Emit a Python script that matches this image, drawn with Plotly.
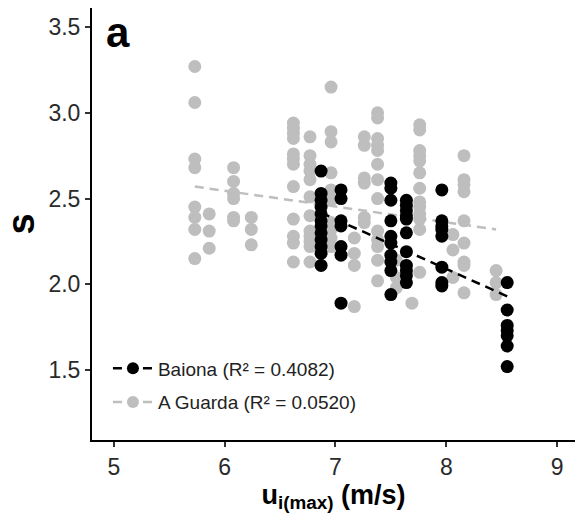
import plotly.graph_objects as go

# ---- data ----
guarda_x = ([5.73] * 8 + [5.86] * 3 + [6.08] * 6 + [6.24] * 3 + [6.62] * 12 + [6.77] * 12
            + [6.96] * 10 + [7.17] * 4 + [7.26] * 6 + [7.38] * 13 + [7.55] * 3 + [7.69] * 1
            + [7.76] * 13 + [8.06] * 3 + [8.16] * 9 + [8.45] * 3)
guarda_y = [3.27, 3.06, 2.73, 2.68, 2.45, 2.39, 2.32, 2.15,
            2.41, 2.31, 2.21,
            2.68, 2.60, 2.53, 2.50, 2.39, 2.37,
            2.39, 2.32, 2.23,
            2.94, 2.91, 2.88, 2.85, 2.76, 2.73, 2.70, 2.57, 2.38, 2.28, 2.24, 2.13,
            2.86, 2.75, 2.70, 2.66, 2.61, 2.51, 2.40, 2.31, 2.28, 2.25, 2.22, 2.13,
            3.15, 2.89, 2.83, 2.65, 2.55, 2.49, 2.36, 2.32, 2.27, 2.22,
            2.27, 2.18, 2.11, 1.87,
            2.86, 2.81, 2.62, 2.59, 2.39, 2.36,
            3.00, 2.97, 2.85, 2.81, 2.78, 2.70, 2.61, 2.50, 2.31, 2.26, 2.22, 2.14, 2.02,
            2.14, 2.04, 1.98,
            1.89,
            2.93, 2.90, 2.78, 2.75, 2.72, 2.65, 2.56, 2.48, 2.45, 2.41, 2.38, 2.32, 2.07,
            2.29, 2.20, 2.04,
            2.75, 2.61, 2.58, 2.54, 2.37, 2.24, 2.13, 2.11, 1.95,
            2.08, 2.01, 1.94]

baiona_x = ([6.87] * 12 + [7.05] * 7 + [7.50] * 10 + [7.64] * 11 + [7.96] * 8 + [8.55] * 7)
baiona_y = [2.66, 2.53, 2.49, 2.45, 2.41, 2.37, 2.34, 2.30, 2.26, 2.22, 2.18, 2.11,
            2.55, 2.50, 2.37, 2.34, 2.22, 2.17, 1.89,
            2.59, 2.56, 2.49, 2.37, 2.28, 2.24, 2.17, 2.13, 2.08, 1.94,
            2.49, 2.46, 2.43, 2.40, 2.38, 2.30, 2.19, 2.11, 2.08, 2.05, 2.01,
            2.55, 2.37, 2.34, 2.32, 2.28, 2.10, 2.01, 1.99,
            2.01, 1.85, 1.76, 1.73, 1.70, 1.64, 1.52]

# fitted trend lines (end points)
guarda_fit_x = [5.73, 8.45]
guarda_fit_y = [2.57, 2.32]
baiona_fit_x = [6.87, 8.55]
baiona_fit_y = [2.417, 1.93]

names = ["Baiona (R² = 0.4082)", "A Guarda (R² = 0.0520)"]
x_ticks = [5, 6, 7, 8, 9]
y_ticks = [1.5, 2.0, 2.5, 3.0, 3.5]

GRAY = "#bebebe"
BLACK = "#000000"
FONT = "Arial, Liberation Sans, sans-serif"

fig = go.Figure()
fig.add_trace(go.Scatter(x=guarda_x, y=guarda_y, mode="markers",
                         marker=dict(color=GRAY, size=13), showlegend=False))
fig.add_trace(go.Scatter(x=guarda_fit_x, y=guarda_fit_y, mode="lines",
                         line=dict(color=GRAY, width=2.5, dash="9px,6px"), showlegend=False))
fig.add_trace(go.Scatter(x=baiona_x, y=baiona_y, mode="markers",
                         marker=dict(color=BLACK, size=13), showlegend=False))
fig.add_trace(go.Scatter(x=baiona_fit_x, y=baiona_fit_y, mode="lines",
                         line=dict(color=BLACK, width=2.5, dash="9px,6px"), showlegend=False))

# legend entries
fig.add_trace(go.Scatter(x=[None], y=[None], mode="lines+markers", name=names[0],
                         legendgroup="b",
                         marker=dict(color=BLACK, size=12),
                         line=dict(color=BLACK, width=2.5, dash="9px,6px")))
fig.add_trace(go.Scatter(x=[None], y=[None], mode="lines+markers", name=names[1],
                         legendgroup="g",
                         marker=dict(color=GRAY, size=12),
                         line=dict(color=GRAY, width=2.5, dash="9px,6px")))

axis_common = dict(showgrid=False, zeroline=False, showline=True, linecolor="black",
                   linewidth=2, ticks="outside", ticklen=5, tickwidth=1.5,
                   tickcolor="#333333", tickfont=dict(family=FONT, size=23, color="#2a2a2a"))

fig.update_xaxes(range=[4.802, 9.162], tickvals=x_ticks, ticktext=[str(v) for v in x_ticks],
                 title=dict(text="<b>u<sub>i(max)</sub> (m/s)</b>",
                            font=dict(family=FONT, size=27, color="black"), standoff=5),
                 **axis_common)
fig.update_yaxes(range=[1.092, 3.611], tickvals=y_ticks, ticktext=[f"{v:.1f}" for v in y_ticks],
                 title=dict(text="<b>s</b>", font=dict(family=FONT, size=38, color="black"),
                            standoff=6),
                 **axis_common)

fig.add_annotation(text="<b>a</b>", xref="paper", yref="paper", x=0.024, y=0.944,
                   xanchor="left", yanchor="middle", showarrow=False,
                   font=dict(family=FONT, size=42, color="black"))

fig.update_layout(
    width=577, height=519,
    margin=dict(l=92, r=2, t=8, b=79),
    plot_bgcolor="white", paper_bgcolor="white",
    legend=dict(x=0.033, y=0.043, xanchor="left", yanchor="bottom",
                font=dict(family=FONT, size=19, color="#222222"),
                itemwidth=40,
                bgcolor="rgba(0,0,0,0)", tracegroupgap=6, traceorder="grouped"),
)

fig.write_html("out.html")
